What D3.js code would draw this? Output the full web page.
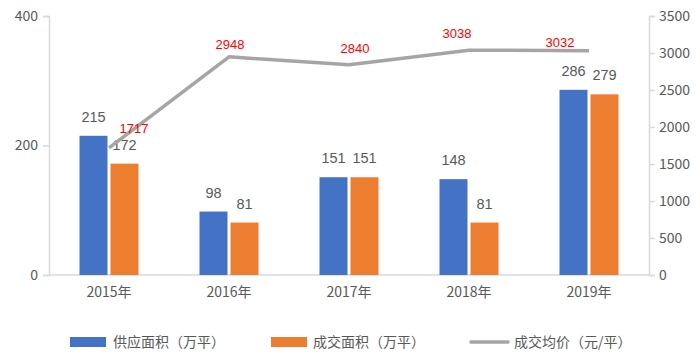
<!DOCTYPE html>
<html><head><meta charset="utf-8">
<script src="https://cdn.jsdelivr.net/npm/d3@7/dist/d3.min.js"></script>
<style>
body{margin:0;background:#fff;}
text{font-family:"Noto Sans CJK SC","Noto Sans",sans-serif;}
text.num{font-family:"Liberation Sans",Arial,sans-serif;}
</style></head>
<body><svg id="c" width="700" height="359"></svg>
<script>
const categories = ["2015年","2016年","2017年","2018年","2019年"];
const supply = [215, 98, 151, 148, 286];
const sales = [172, 81, 151, 81, 279];
const price = [1717, 2948, 2840, 3038, 3032];
const leftTicks = [0, 200, 400];
const rightTicks = [0, 500, 1000, 1500, 2000, 2500, 3000, 3500];
const seriesNames = ["供应面积（万平）","成交面积（万平）","成交均价（元/平）"];

const svg = d3.select("#c");
const L = 49, R = 649, T = 16, B = 275;
const x = d3.scaleBand().domain(categories).range([L, R]);
const yL = d3.scaleLinear().domain([0, 400]).range([B, T]);
const yR = d3.scaleLinear().domain([0, 3500]).range([B, T]);
const gray = "#595959", axisC = "#d9d9d9";
const blue = "#4472c4", orange = "#ed7d31", lineC = "#a5a5a5";

// axes
const axL = svg.append("g").attr("transform", `translate(${L},0)`)
  .call(d3.axisLeft(yL).tickValues(leftTicks).tickSize(6).tickPadding(5));
const axR = svg.append("g").attr("transform", `translate(${R},0)`)
  .call(d3.axisRight(yR).tickValues(rightTicks).tickFormat(d3.format("d")).tickSize(6).tickPadding(4));
const axB = svg.append("g").attr("transform", `translate(0,${B})`)
  .call(d3.axisBottom(x).tickSize(0).tickPadding(12));
[axL, axR, axB].forEach(a => {
  a.selectAll("path,line").attr("stroke", axisC).attr("stroke-width", 1.5);
  a.selectAll("text").attr("fill", gray).style("font-size", "14px");
});
axB.select("path").attr("d", `M${L},0H${R}`);

const bw = 28, gap = 3;
const cx = d => x(d) + x.bandwidth() / 2;
// bars
svg.selectAll(".b1").data(categories).enter().append("rect")
  .attr("x", d => cx(d) - gap/2 - bw).attr("width", bw)
  .attr("y", (d,i) => yL(supply[i])).attr("height", (d,i) => B - yL(supply[i]))
  .attr("fill", blue);
svg.selectAll(".b2").data(categories).enter().append("rect")
  .attr("x", d => cx(d) + gap/2).attr("width", bw)
  .attr("y", (d,i) => yL(sales[i])).attr("height", (d,i) => B - yL(sales[i]))
  .attr("fill", orange);
// bar labels
svg.selectAll(".l1").data(categories).enter().append("text").attr("class", "num")
  .attr("x", d => cx(d) - gap/2 - bw/2).attr("y", (d,i) => yL(supply[i]) - 14)
  .attr("text-anchor", "middle").attr("fill", gray).style("font-size", "14.5px")
  .text((d,i) => supply[i]);
svg.selectAll(".l2").data(categories).enter().append("text").attr("class", "num")
  .attr("x", d => cx(d) + gap/2 + bw/2).attr("y", (d,i) => yL(sales[i]) - 14)
  .attr("text-anchor", "middle").attr("fill", gray).style("font-size", "14.5px")
  .text((d,i) => sales[i]);

// line
const line = d3.line().x((d,i) => cx(categories[i])).y(d => yR(d));
svg.append("path").datum(price).attr("d", line)
  .attr("fill", "none").attr("stroke", lineC).attr("stroke-width", 3.5).attr("stroke-linejoin", "round");
// line labels (nudges are presentation offsets)
const nudge = [[25, -15], [1, -8], [6, -12], [-12, -12], [-29, -4]];
svg.selectAll(".pl").data(categories).enter().append("text").attr("class", "num")
  .attr("x", (d,i) => cx(d) + nudge[i][0]).attr("y", (d,i) => yR(price[i]) + nudge[i][1])
  .attr("text-anchor", "middle").attr("fill", "#ff0000").style("font-size", "13px")
  .text((d,i) => price[i]);

// legend
const lg = svg.append("g");
const ly = 342;
lg.append("rect").attr("x", 70).attr("y", ly - 5).attr("width", 36).attr("height", 10).attr("fill", blue);
lg.append("text").attr("x", 113).attr("y", ly + 5).attr("fill", gray).style("font-size", "14px").text(seriesNames[0]);
lg.append("rect").attr("x", 271).attr("y", ly - 5).attr("width", 36).attr("height", 10).attr("fill", orange);
lg.append("text").attr("x", 313).attr("y", ly + 5).attr("fill", gray).style("font-size", "14px").text(seriesNames[1]);
lg.append("line").attr("x1", 471).attr("x2", 508).attr("y1", ly).attr("y2", ly)
  .attr("stroke", lineC).attr("stroke-width", 3.5).attr("stroke-linecap", "round");
lg.append("text").attr("x", 514).attr("y", ly + 5).attr("fill", gray).style("font-size", "14px").text(seriesNames[2]);
</script></body></html>
